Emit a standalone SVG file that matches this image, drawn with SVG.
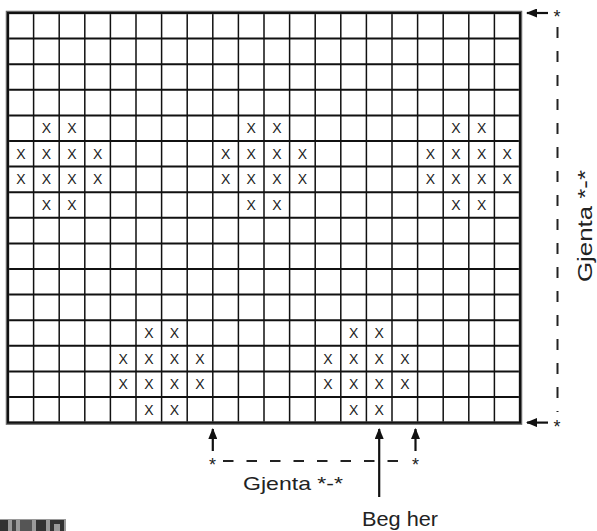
<svg xmlns="http://www.w3.org/2000/svg" width="597" height="531" viewBox="0 0 597 531">
<style>
.x{font-family:"Liberation Sans",Arial,sans-serif;font-size:14px;fill:#222;text-anchor:middle}
.lbl{font-family:"Liberation Sans",Arial,sans-serif;fill:#222}
.ast{font-family:"Liberation Sans",Arial,sans-serif;font-size:18px;fill:#222;text-anchor:middle}
.v{stroke:#111;stroke-width:1.5;fill:none}
.h{stroke:#111;stroke-width:2;fill:none}
.dash{stroke:#222;stroke-width:2;fill:none}
.arr{stroke:#111;stroke-width:2.2;fill:none}
</style>
<defs>
<marker id="ah" viewBox="0 0 11 9" refX="10" refY="4.5" markerWidth="11" markerHeight="9" markerUnits="userSpaceOnUse" orient="auto">
<path d="M0,0 L11,4.5 L0,9 Z" fill="#111"/>
</marker>
</defs>
<rect width="597" height="531" fill="#fff"/>
<g id="grid">
<path class="v" d="M33.6,13V422.6M59.2,13V422.6M84.8,13V422.6M110.4,13V422.6M136,13V422.6M161.6,13V422.6M187.2,13V422.6M212.8,13V422.6M238.4,13V422.6M264,13V422.6M289.6,13V422.6M315.2,13V422.6M340.8,13V422.6M366.4,13V422.6M392,13V422.6M417.6,13V422.6M443.2,13V422.6M468.8,13V422.6M494.4,13V422.6"/>
<path class="h" d="M8,38.6H520M8,64.2H520M8,89.8H520M8,115.4H520M8,141H520M8,166.6H520M8,192.2H520M8,217.8H520M8,243.4H520M8,269H520M8,294.6H520M8,320.2H520M8,345.8H520M8,371.4H520M8,397H520"/>
<rect x="7.5" y="12.5" width="513" height="410.6" fill="none" stroke="#666" stroke-width="3.5"/>
<rect x="8" y="13" width="512" height="409.6" fill="none" stroke="#111" stroke-width="2"/>
</g>
<g id="marks">
<text class="x" x="46.4" y="133.2">X</text><text class="x" x="72" y="133.2">X</text><text class="x" x="251.2" y="133.2">X</text><text class="x" x="276.8" y="133.2">X</text><text class="x" x="456" y="133.2">X</text><text class="x" x="481.6" y="133.2">X</text>
<text class="x" x="20.8" y="158.8">X</text><text class="x" x="46.4" y="158.8">X</text><text class="x" x="72" y="158.8">X</text><text class="x" x="97.6" y="158.8">X</text><text class="x" x="225.6" y="158.8">X</text><text class="x" x="251.2" y="158.8">X</text><text class="x" x="276.8" y="158.8">X</text><text class="x" x="302.4" y="158.8">X</text><text class="x" x="430.4" y="158.8">X</text><text class="x" x="456" y="158.8">X</text><text class="x" x="481.6" y="158.8">X</text><text class="x" x="507.2" y="158.8">X</text>
<text class="x" x="20.8" y="184.4">X</text><text class="x" x="46.4" y="184.4">X</text><text class="x" x="72" y="184.4">X</text><text class="x" x="97.6" y="184.4">X</text><text class="x" x="225.6" y="184.4">X</text><text class="x" x="251.2" y="184.4">X</text><text class="x" x="276.8" y="184.4">X</text><text class="x" x="302.4" y="184.4">X</text><text class="x" x="430.4" y="184.4">X</text><text class="x" x="456" y="184.4">X</text><text class="x" x="481.6" y="184.4">X</text><text class="x" x="507.2" y="184.4">X</text>
<text class="x" x="46.4" y="210">X</text><text class="x" x="72" y="210">X</text><text class="x" x="251.2" y="210">X</text><text class="x" x="276.8" y="210">X</text><text class="x" x="456" y="210">X</text><text class="x" x="481.6" y="210">X</text>
<text class="x" x="148.8" y="338">X</text><text class="x" x="174.4" y="338">X</text><text class="x" x="353.6" y="338">X</text><text class="x" x="379.2" y="338">X</text>
<text class="x" x="123.2" y="363.6">X</text><text class="x" x="148.8" y="363.6">X</text><text class="x" x="174.4" y="363.6">X</text><text class="x" x="200" y="363.6">X</text><text class="x" x="328" y="363.6">X</text><text class="x" x="353.6" y="363.6">X</text><text class="x" x="379.2" y="363.6">X</text><text class="x" x="404.8" y="363.6">X</text>
<text class="x" x="123.2" y="389.2">X</text><text class="x" x="148.8" y="389.2">X</text><text class="x" x="174.4" y="389.2">X</text><text class="x" x="200" y="389.2">X</text><text class="x" x="328" y="389.2">X</text><text class="x" x="353.6" y="389.2">X</text><text class="x" x="379.2" y="389.2">X</text><text class="x" x="404.8" y="389.2">X</text>
<text class="x" x="148.8" y="414.8">X</text><text class="x" x="174.4" y="414.8">X</text><text class="x" x="353.6" y="414.8">X</text><text class="x" x="379.2" y="414.8">X</text>
</g>
<g id="connectors">
<line class="arr" x1="548" y1="13" x2="527" y2="13" marker-end="url(#ah)"/>
<line class="arr" x1="548" y1="422.6" x2="527" y2="422.6" marker-end="url(#ah)"/>
<line class="dash" x1="557.5" y1="27" x2="557.5" y2="412" stroke-dasharray="11 13"/>
<line class="arr" x1="212.8" y1="451" x2="212.8" y2="429" marker-end="url(#ah)"/>
<line class="arr" x1="415.5" y1="451" x2="415.5" y2="429" marker-end="url(#ah)"/>
<line class="arr" x1="379.2" y1="497" x2="379.2" y2="429" marker-end="url(#ah)"/>
<line class="dash" x1="223" y1="461" x2="406" y2="461" stroke-dasharray="10.5 13"/>
</g>
<g id="labels">
<text class="ast" x="557" y="23">*</text>
<text class="ast" x="557" y="432.5">*</text>
<text class="ast" x="212.5" y="471">*</text>
<text class="ast" x="415.5" y="471">*</text>
<text class="lbl" x="243" y="490" font-size="19" textLength="100" lengthAdjust="spacingAndGlyphs">Gjenta *-*</text>
<text class="lbl" x="362" y="526" font-size="21" textLength="76" lengthAdjust="spacingAndGlyphs">Beg her</text>
<text class="lbl" transform="translate(592,282) rotate(-90)" font-size="21" textLength="112" lengthAdjust="spacingAndGlyphs">Gjenta *-*</text>
</g>
<g id="logo">
<rect x="0" y="519" width="66" height="12" fill="#9a9a9a"/>
<rect x="0" y="520" width="8" height="11" fill="#333"/>
<rect x="12" y="520" width="4" height="11" fill="#444"/>
<rect x="20" y="520" width="12" height="11" fill="#555"/>
<rect x="36" y="520" width="10" height="11" fill="#333"/>
<rect x="50" y="520" width="14" height="4" fill="#333"/>
<rect x="50" y="520" width="4" height="11" fill="#333"/>
<rect x="60" y="520" width="4" height="11" fill="#333"/>
</g>
</svg>
